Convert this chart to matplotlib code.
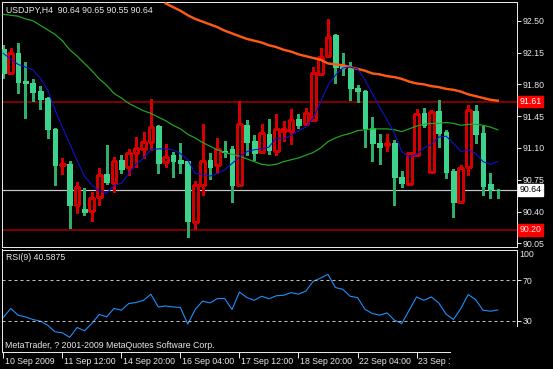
import matplotlib
matplotlib.use("Agg")
from matplotlib import pyplot as plt
from matplotlib.lines import Line2D
from matplotlib.transforms import Bbox, TransformedBbox
import numpy as np

W, H = 553, 369

# USDJPY H4 candles
opens = [92.19, 91.92, 92.14, 91.84, 91.81, 91.73, 91.65, 91.31, 90.91, 90.92,
         90.47, 90.43, 90.41, 90.56, 90.81, 90.71, 90.97, 90.89, 91.04, 91.09,
         91.17, 91.34, 90.95, 91.02, 90.97, 90.96, 90.29, 90.69, 90.97, 90.91,
         91.07, 91.09, 90.69, 91.35, 91.18, 91.06, 91.25, 91.07, 91.29, 91.29,
         91.42, 91.36, 91.41, 91.91, 92.11, 92.34, 92.00, 91.98, 91.76, 91.73,
         91.32, 91.15, 91.13, 91.15, 90.78, 90.70, 91.02, 91.48, 90.84, 91.51,
         91.28, 90.85, 90.51, 90.89, 91.51, 91.27, 90.70, 90.64]
highs = [92.23, 92.20, 92.25, 92.05, 91.86, 91.78, 91.66, 91.32, 90.99, 90.96,
         90.72, 90.66, 90.61, 90.88, 91.13, 91.00, 91.02, 91.09, 91.22, 91.28,
         91.64, 91.35, 91.14, 91.06, 91.16, 90.96, 90.74, 91.36, 91.04, 91.21,
         91.18, 91.12, 91.62, 91.41, 91.24, 91.36, 91.42, 91.47, 91.40, 91.53,
         91.47, 91.54, 91.99, 92.20, 92.52, 92.35, 92.14, 92.05, 91.79, 91.74,
         91.44, 91.25, 91.25, 91.19, 90.85, 91.06, 91.53, 91.54, 91.52, 91.63,
         91.30, 90.87, 90.91, 91.57, 91.57, 91.34, 90.83, 90.65]
lows = [91.87, 91.91, 91.70, 91.43, 91.62, 91.53, 91.21, 90.69, 90.81, 90.22,
        90.38, 90.36, 90.30, 90.47, 90.70, 90.61, 90.82, 90.80, 90.89, 90.99,
        91.08, 90.82, 90.89, 90.78, 90.83, 90.12, 90.21, 90.58, 90.76, 90.83,
        91.00, 90.51, 90.69, 91.02, 90.97, 91.04, 91.03, 91.02, 91.18, 91.14,
        91.32, 91.35, 91.40, 91.91, 92.11, 91.82, 91.90, 91.63, 91.61, 91.11,
        90.96, 90.92, 91.07, 90.47, 90.67, 90.69, 91.02, 91.33, 90.83, 91.11,
        90.77, 90.34, 90.50, 90.80, 91.16, 90.58, 90.55, 90.55]
closes = [91.92, 92.14, 91.83, 91.81, 91.72, 91.64, 91.31, 90.91, 90.92, 90.47,
          90.67, 90.40, 90.55, 90.80, 90.72, 90.96, 90.87, 91.05, 91.10, 91.17,
          91.33, 90.94, 91.00, 90.96, 90.93, 90.30, 90.69, 90.96, 90.89, 91.09,
          91.06, 90.69, 91.36, 91.17, 91.05, 91.26, 91.08, 91.31, 91.31, 91.41,
          91.35, 91.49, 91.93, 92.10, 92.32, 91.99, 91.98, 91.76, 91.73, 91.32,
          91.16, 91.11, 91.16, 90.78, 90.71, 91.05, 91.47, 91.35, 91.50, 91.27,
          90.84, 90.50, 90.88, 91.52, 91.25, 90.68, 90.65, 90.64]

# moving averages (blue fast, green mid, orange slow)
ma_fast = [92.14, 92.08, 92.02, 91.99, 91.96, 91.87, 91.74, 91.52, 91.33, 91.15,
           90.96, 90.79, 90.69, 90.63, 90.60, 90.69, 90.71, 90.82, 90.92, 90.99,
           91.08, 91.09, 91.09, 91.08, 91.04, 90.97, 90.82, 90.81, 90.79, 90.82,
           90.86, 90.93, 91.00, 91.06, 91.08, 91.09, 91.11, 91.21, 91.20, 91.24,
           91.29, 91.33, 91.43, 91.61, 91.79, 91.90, 91.98, 91.99, 91.97, 91.85,
           91.70, 91.55, 91.41, 91.26, 91.06, 91.00, 91.03, 91.10, 91.14, 91.22,
           91.23, 91.15, 91.06, 91.08, 91.04, 90.95, 90.92, 90.95]
ma_mid = [92.57, 92.56, 92.55, 92.52, 92.50, 92.45, 92.40, 92.35, 92.28, 92.18,
          92.11, 92.03, 91.95, 91.86, 91.79, 91.70, 91.65, 91.59, 91.55, 91.51,
          91.48, 91.44, 91.40, 91.35, 91.31, 91.25, 91.21, 91.16, 91.12, 91.08,
          91.05, 91.03, 91.01, 90.98, 90.95, 90.92, 90.91, 90.92, 90.95, 90.97,
          90.99, 91.02, 91.05, 91.10, 91.17, 91.21, 91.24, 91.26, 91.29, 91.30,
          91.31, 91.31, 91.31, 91.30, 91.28, 91.31, 91.34, 91.36, 91.37, 91.37,
          91.38, 91.37, 91.35, 91.36, 91.36, 91.35, 91.33, 91.30]
ma_slow = [None] * 22 + [
          92.69, 92.65, 92.61, 92.56, 92.52, 92.49, 92.46, 92.43,
          92.39, 92.36, 92.33, 92.30, 92.28, 92.26, 92.23, 92.21, 92.18, 92.16,
          92.13, 92.11, 92.09, 92.07, 92.03, 92.02, 92.01, 91.99, 91.97, 91.95,
          91.92, 91.91, 91.89, 91.88, 91.86, 91.83, 91.81, 91.80, 91.78, 91.77,
          91.75, 91.74, 91.72, 91.69, 91.67, 91.65, 91.63, 91.62]

rsi = [33.2, 42.1, 35.5, 33.8, 31.2, 29.6, 25.6, 19.0, 18.0, 13.5,
       23.3, 20.0, 27.3, 36.2, 33.8, 42.1, 40.4, 47.0, 48.0, 50.2,
       56.2, 43.6, 44.6, 43.6, 43.1, 26.6, 41.1, 49.3, 47.6, 51.9,
       51.9, 41.1, 58.4, 52.9, 50.2, 54.2, 51.7, 54.7, 55.2, 57.8,
       56.2, 59.4, 69.0, 72.2, 75.9, 62.8, 61.1, 54.2, 52.9, 41.4,
       37.1, 35.5, 37.7, 30.5, 27.3, 40.4, 53.5, 50.2, 53.5, 47.6,
       36.5, 31.2, 42.1, 55.9, 50.9, 40.4, 39.4, 40.59]

time_labels = ["10 Sep 2009", "11 Sep 12:00", "14 Sep 20:00", "16 Sep 04:00",
               "17 Sep 12:00", "18 Sep 20:00", "22 Sep 04:00", "23 Sep 12:00"]
price_ticks = [90.05, 90.40, 90.75, 91.10, 91.45, 91.80, 92.15, 92.50]
level_hi = 91.61
level_lo = 90.20
last_price = 90.64

GREEN = "#3cd48c"
GREEN_WICK = "#2fae6e"
RED = "#d40000"
FG = "#e8e8e8"
PX = 0.72  # one pixel in points at 100 dpi


def px_rect(x0, y0, x1, y1):
    return [x0 / W, 1 - y1 / H, (x1 - x0) / W, (y1 - y0) / H]


plt.rcParams['font.family'] = ['Liberation Sans', 'DejaVu Sans']
fig = plt.figure(figsize=(W / 100, H / 100), dpi=100, facecolor="black")
ax = fig.add_axes(px_rect(2, 2, 516.7, 247.3), facecolor="black")
ax2 = fig.add_axes(px_rect(2, 249.5, 516.7, 352.3), facecolor="black", sharex=ax)

o = np.array(opens)
h = np.array(highs)
l = np.array(lows)
c = np.array(closes)
x = np.arange(len(o))
up = c > o
dn = ~up

# horizontal levels
ax.axhline(level_hi, color="#990000", lw=1.6 * PX, zorder=1)
ax.axhline(level_lo, color="#990000", lw=1.6 * PX, zorder=1)
ax.axhline(last_price, color="#c8c8c8", lw=1.2 * PX, zorder=1)

# candles
ax.vlines(x[dn], l[dn], h[dn], color=GREEN_WICK, lw=1.2 * PX, zorder=2, antialiased=False)
ax.vlines(x[up], l[up], h[up], color=RED, lw=1.2 * PX, zorder=2, antialiased=False)
body_lo = np.minimum(o, c)
body_h = np.abs(c - o)
ax.bar(x[dn], body_h[dn], bottom=body_lo[dn], width=0.64, color=GREEN,
       edgecolor=GREEN, lw=1.0 * PX, zorder=3, antialiased=False)
ax.bar(x[up], body_h[up], bottom=body_lo[up], width=0.64, facecolor="black",
       edgecolor=RED, lw=1.1 * PX, zorder=3, antialiased=False)

# moving averages
ax.plot(x, np.array(ma_slow, dtype=float), color="#ff5a14", lw=2.4 * PX, zorder=4)
ax.plot(x, ma_mid, color="#22a822", lw=1.2 * PX, zorder=4)
ax.plot(x, ma_fast, color="#1010d0", lw=1.1 * PX, zorder=4)

ax.set_xlim(-0.176, 69.57)
ax.set_ylim(90.007, 92.706)

for a in (ax, ax2):
    for s in a.spines.values():
        s.set_color(FG)
        s.set_linewidth(1.0 * PX)

ax.yaxis.tick_right()
ax.set_yticks(price_ticks, [f"{p:.2f}" for p in price_ticks])
ax.tick_params(axis="y", colors=FG, length=3, width=PX, pad=1.5, labelsize=6.3)
ax.tick_params(axis="x", bottom=False, labelbottom=False)

# price boxes on the scale
ytr = ax.get_yaxis_transform()
box_x = 1.0058
ax.text(box_x, level_hi, f"{level_hi:.2f}", transform=ytr, color="white", fontsize=6.3,
        va="center", ha="left", bbox=dict(boxstyle="square,pad=0.15", fc="#ff0000", ec="#ff0000"))
ax.text(box_x, level_lo, f"{level_lo:.2f}", transform=ytr, color="#ffe0e0", fontsize=6.3,
        va="center", ha="left", bbox=dict(boxstyle="square,pad=0.15", fc="#ff0000", ec="#ff0000"))
ax.text(box_x, last_price, f"{last_price:.2f}", transform=ytr, color="black", fontsize=6.3,
        va="center", ha="left", bbox=dict(boxstyle="square,pad=0.15", fc="white", ec="white"))

# RSI window
ax2.plot(x, rsi, color="#1e90ff", lw=1.1 * PX)
ax2.axhline(70, color="#c0c0c0", lw=1.0 * PX, ls=(0, (3, 3)))
ax2.axhline(30, color="#c0c0c0", lw=1.0 * PX, ls=(0, (3, 3)))
ax2.set_ylim(-1.3, 100.5)
ax2.yaxis.tick_right()
ax2.set_yticks([30, 70], ["30", "70"])
ax2.tick_params(axis="y", colors=FG, length=3, width=PX, pad=1.5, labelsize=6.3)
ax2.text(box_x, 100, "100", transform=ax2.get_yaxis_transform(), color=FG,
         fontsize=6.3, va="top", ha="left")

# the lower right corner of the window is cut off in the screenshot
ax2.spines["right"].set_visible(False)
ax2.spines["bottom"].set_visible(False)
fig.add_artist(Line2D([516.7 / W, 516.7 / W], [1 - 249.5 / H, 1 - 326 / H],
                      color=FG, lw=PX))
fig.add_artist(Line2D([2 / W, 450 / W], [1 - 352.3 / H, 1 - 352.3 / H],
                      color=FG, lw=PX))

tick_pos = np.arange(len(time_labels)) * 8
ax2.set_xticks(tick_pos)
ax2.tick_params(axis="x", colors=FG, length=4, width=PX, labelbottom=False)
clip = TransformedBbox(Bbox.from_extents(0, 0, 450 / W, 1), fig.transFigure)
xtr = ax2.get_xaxis_transform()
for p, lab in zip(tick_pos, time_labels):
    t = ax2.text(p + 0.2, -0.085, lab, transform=xtr, color=FG, fontsize=6.3,
                 va="center", ha="left", clip_on=True)
    t.set_clip_box(clip)

fig.text(6 / W, 1 - 10 / H, "USDJPY,H4  90.64 90.65 90.55 90.64", color=FG,
         fontsize=6.3, va="center", ha="left")
fig.text(6 / W, 1 - 258 / H, "RSI(9) 40.5875", color=FG, fontsize=6.3, va="center", ha="left")
fig.text(5 / W, 1 - 346 / H, "MetaTrader, ? 2001-2009 MetaQuotes Software Corp.",
         color=FG, fontsize=6.3, va="center", ha="left")

fig.savefig("out.png", dpi=100, facecolor="black")
